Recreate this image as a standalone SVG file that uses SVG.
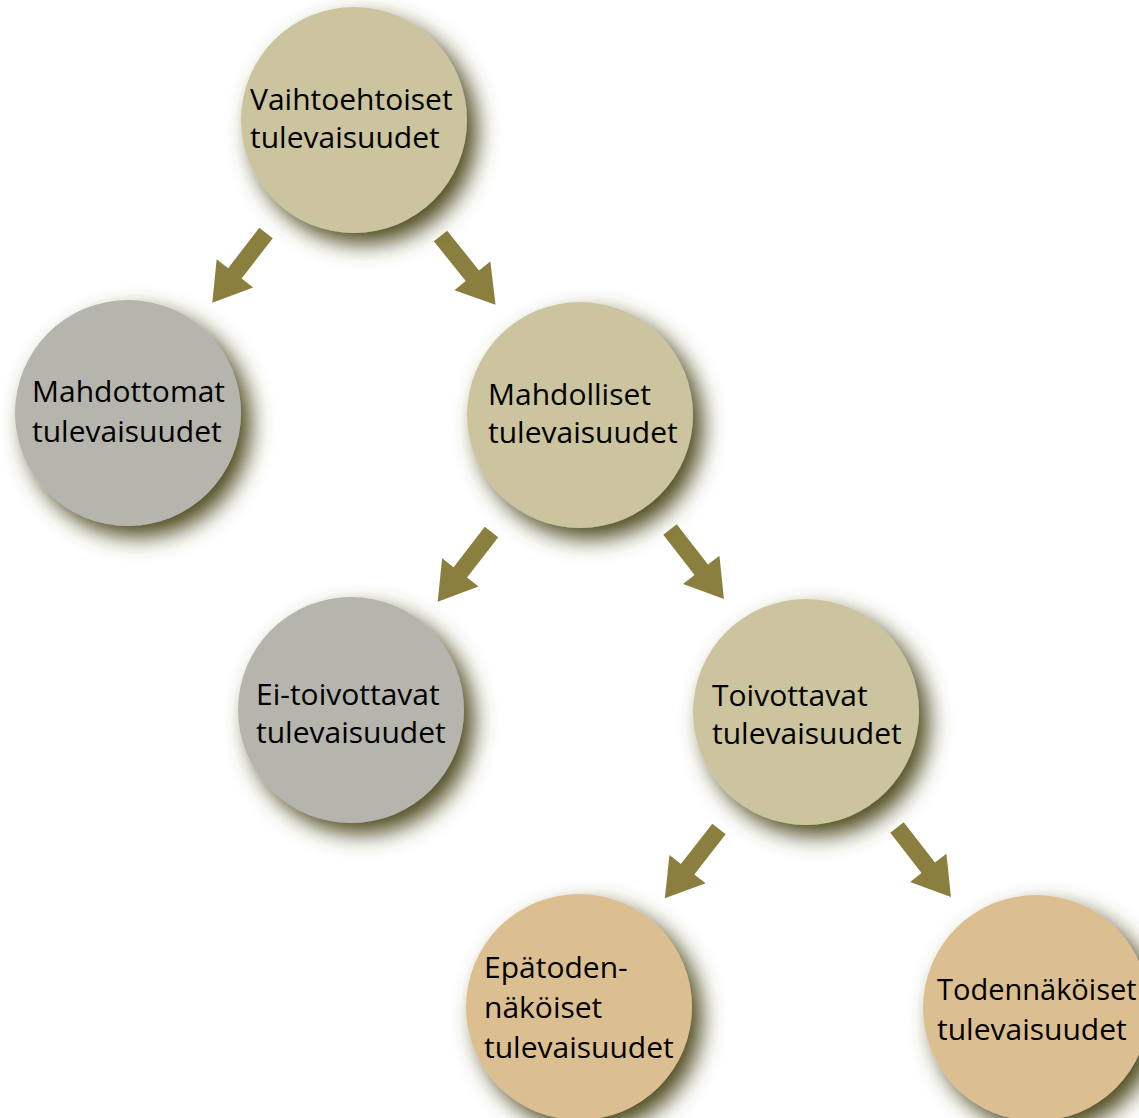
<svg xmlns="http://www.w3.org/2000/svg" width="1139" height="1118" viewBox="0 0 1139 1118">
  <defs>
    <filter id="shadow" x="-50%" y="-50%" width="200%" height="200%">
      <feDropShadow dx="10" dy="11" stdDeviation="11" flood-color="#4e481f" flood-opacity="1"/>
    </filter>
    <path id="arrow" d="M-8.5,0 H8.5 V51 H23 L0,88 L-23,51 H-8.5 Z"/>
  </defs>
  <style>
    .node circle { filter: url(#shadow); }
    .beige { fill: #cbc49e; }
    .gray { fill: #b5b5ad; }
    .tan { fill: #dcbf91; }
    .lbl { font-family: "Open Sans", "Noto Sans", sans-serif; font-size: 30px; fill: #000; }
    .narrow { font-size: 29px; }
    .arr { fill: #8a7f3e; }
  </style>
  <rect width="1139" height="1118" fill="#ffffff"/>

  <g id="connectors">
    <use href="#arrow" class="arr" transform="translate(266,233) rotate(37.6)"/>
    <use href="#arrow" class="arr" transform="translate(440.5,236) rotate(-38.7)"/>
    <use href="#arrow" class="arr" transform="translate(491.5,532) rotate(37.7)"/>
    <use href="#arrow" class="arr" transform="translate(670,529.5) rotate(-37.8)"/>
    <use href="#arrow" class="arr" transform="translate(719,829) rotate(38)"/>
    <use href="#arrow" class="arr" transform="translate(897,827.5) rotate(-37.8)"/>
  </g>

  <g id="node-vaihtoehtoiset" class="node">
    <circle class="beige" cx="354" cy="120" r="113"/>
    <text class="lbl" x="250" y="110">Vaihtoehtoiset</text>
    <text class="lbl" x="250" y="148">tulevaisuudet</text>
  </g>
  <g id="node-mahdottomat" class="node">
    <circle class="gray" cx="128" cy="413" r="113"/>
    <text class="lbl" x="32" y="402">Mahdottomat</text>
    <text class="lbl" x="32" y="442">tulevaisuudet</text>
  </g>
  <g id="node-mahdolliset" class="node">
    <circle class="beige" cx="580" cy="415" r="113"/>
    <text class="lbl" x="488" y="405">Mahdolliset</text>
    <text class="lbl" x="488" y="443">tulevaisuudet</text>
  </g>
  <g id="node-ei-toivottavat" class="node">
    <circle class="gray" cx="351" cy="710" r="113"/>
    <text class="lbl" x="256" y="705">Ei-toivottavat</text>
    <text class="lbl" x="256" y="743">tulevaisuudet</text>
  </g>
  <g id="node-toivottavat" class="node">
    <circle class="beige" cx="806" cy="712" r="113"/>
    <text class="lbl" x="712" y="706">Toivottavat</text>
    <text class="lbl" x="712" y="744">tulevaisuudet</text>
  </g>
  <g id="node-epatodennakoiset" class="node">
    <circle class="tan" cx="579" cy="1007" r="113"/>
    <text class="lbl" x="484" y="978">Epätoden-</text>
    <text class="lbl" x="484" y="1018">näköiset</text>
    <text class="lbl" x="484" y="1058">tulevaisuudet</text>
  </g>
  <g id="node-todennakoiset" class="node">
    <circle class="tan" cx="1036" cy="1008" r="113"/>
    <text class="lbl narrow" x="937" y="1000">Todennäköiset</text>
    <text class="lbl" x="937" y="1040">tulevaisuudet</text>
  </g>
</svg>
